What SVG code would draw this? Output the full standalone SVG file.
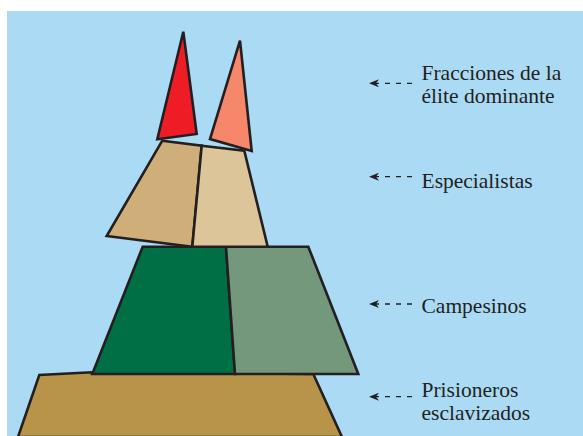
<svg xmlns="http://www.w3.org/2000/svg" width="583" height="436" viewBox="0 0 583 436">
<defs>
<style>
.s{stroke:#231f20;stroke-width:2.6;stroke-linejoin:miter}
.t{font-family:'Liberation Serif','Times New Roman',Times,serif;font-size:21.5px;fill:#231f20}
.c{stroke:#231f20;stroke-width:1.3;stroke-dasharray:5 6;fill:none}
</style>
<marker id="ah" markerWidth="10" markerHeight="8" refX="10" refY="4" orient="auto" markerUnits="userSpaceOnUse">
<path d="M10,4 L0,0 L3,4 L0,8 Z" fill="#231f20"/>
</marker>
</defs>
<rect x="0" y="0" width="583" height="436" fill="#ffffff"/>
<rect x="7" y="11" width="576" height="425" fill="#abdaf4"/>
<g id="prisioneros">
<path class="s" d="M18,437 L39.3,375 L92.3,372.3 L313.3,374 L342,437 Z" fill="#b8934a"/>
</g>
<g id="campesinos">
<path class="s" d="M142.7,246.7 L226,246.7 L235,374 L92.3,374 Z" fill="#006f45"/>
<path class="s" d="M226,246.7 L308.3,246.7 L358.3,374 L235,374 Z" fill="#73987b"/>
</g>
<g id="especialistas">
<path class="s" d="M162.3,140.7 L201.7,145.7 L192.3,246.7 L106.7,236 Z" fill="#cfae7a"/>
<path class="s" d="M201.7,145.7 L244.3,150.7 L267.7,246.7 L192.3,246.7 Z" fill="#ddc59a"/>
</g>
<g id="elite">
<path class="s" d="M183.3,31.7 L196.7,134 L157.3,139.3 Z" fill="#ee1c25"/>
<path class="s" d="M240,40.7 L251.7,151 L210,139 Z" fill="#f6876a"/>
</g>
<g id="connectors">
<line class="c" x1="412" y1="83.3" x2="369" y2="83.3" marker-end="url(#ah)"/>
<line class="c" x1="412" y1="176.7" x2="369" y2="176.7" marker-end="url(#ah)"/>
<line class="c" x1="412" y1="304" x2="369" y2="304" marker-end="url(#ah)"/>
<line class="c" x1="412" y1="396.7" x2="369" y2="396.7" marker-end="url(#ah)"/>
</g>
<g id="labels">
<text class="t" x="421.5" y="80">Fracciones de la</text>
<text class="t" x="421.5" y="103.3">élite dominante</text>
<text class="t" x="421.5" y="188">Especialistas</text>
<text class="t" x="421.5" y="313.3">Campesinos</text>
<text class="t" x="421.5" y="396.7">Prisioneros</text>
<text class="t" x="421.5" y="419.5">esclavizados</text>
</g>
</svg>
